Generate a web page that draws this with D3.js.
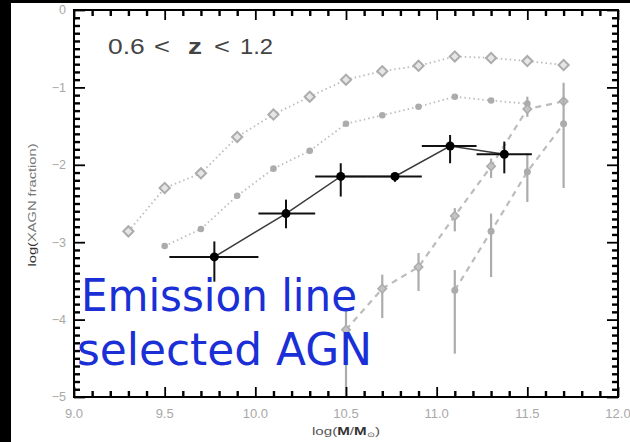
<!DOCTYPE html>
<html>
<head>
<meta charset="utf-8">
<script src="https://cdn.jsdelivr.net/npm/d3@7"></script>
<style>
  html, body { margin: 0; padding: 0; background: #fff; }
  svg { display: block; }
</style>
</head>
<body>
<script>
// ---------- data ----------
const xTicksMajor = [9.0, 9.5, 10.0, 10.5, 11.0, 11.5, 12.0];
const xTickLabels = ["9.0", "9.5", "10.0", "10.5", "11.0", "11.5", "12.0"];
const yTicksMajor = [0, -1, -2, -3, -4, -5];

const massDiamond = [9.3, 9.5, 9.7, 9.9, 10.1, 10.3, 10.5, 10.7, 10.9, 11.1, 11.3, 11.5, 11.7];
const fracDiamond = [-2.86, -2.30, -2.11, -1.64, -1.35, -1.12, -0.90, -0.79, -0.72, -0.60, -0.62, -0.66, -0.71];

const massDots = [9.5, 9.7, 9.9, 10.1, 10.3, 10.5, 10.7, 10.9, 11.1, 11.3, 11.5];
const fracDots = [-3.05, -2.83, -2.40, -2.05, -1.82, -1.47, -1.36, -1.25, -1.12, -1.17, -1.21];

const massDashA = [10.5, 10.7, 10.9, 11.1, 11.3, 11.5, 11.7];
const fracDashA = [-4.13, -3.60, -3.32, -2.66, -2.02, -1.28, -1.18];
const loDashA   = [-5.00, -3.98, -3.63, -2.86, -2.17, -1.38, null];
const hiDashA   = [-3.88, -3.42, -3.14, -2.56, -1.92, -1.12, null];

const massDashB = [11.1, 11.3, 11.5, 11.7];
const fracDashB = [-3.62, -2.86, -2.09, -1.47];
const loDashB   = [-4.44, -3.45, -2.48, -2.30];
const hiDashB   = [-3.36, -2.63, -1.85, -0.94];

const massAGN  = [9.774, 10.169, 10.471, 10.770, 11.074, 11.373];
const fracAGN  = [-3.19, -2.63, -2.15, -2.15, -1.757, -1.864];
const massLo   = [9.526, 10.017, 10.330, 10.620, 10.918, 11.220];
const massHi   = [10.017, 10.330, 10.620, 10.918, 11.220, 11.525];
const fracLo   = [-3.51, -2.82, -2.41, -2.22, -1.98, -2.11];
const fracHi   = [-2.99, -2.45, -1.98, -2.11, -1.615, -1.70];

// ---------- layout ----------
const W = 630, H = 442;
const PL = 74, PR = 618, PT = 10, PB = 397;

const svg = d3.select("body").append("svg").attr("width", W).attr("height", H)
  .attr("viewBox", `0 0 ${W} ${H}`);
svg.append("rect").attr("width", W).attr("height", H).attr("fill", "#fff");
svg.append("rect").attr("x", 0).attr("y", 0).attr("width", 11).attr("height", H).attr("fill", "#000");
svg.append("rect").attr("x", 0).attr("y", 0).attr("width", W).attr("height", 3).attr("fill", "#000");

const xs = d3.scaleLinear().domain([9, 12]).range([PL, PR]);
const ys = d3.scaleLinear().domain([-5, 0]).range([PB, PT]);

const minorX = d3.range(90, 121).map(v => v / 10).filter(v => Math.abs(v * 2 - Math.round(v * 2)) > 1e-6);
const minorY = d3.range(-50, 1).map(v => v / 10).filter(v => Math.abs(v - Math.round(v)) > 1e-6);

// ---------- gray data marks ----------
const lineGen = d3.line().x(d => xs(d[0])).y(d => ys(d[1]));

const dDia = massDiamond.map((m, i) => [m, fracDiamond[i]]);
svg.append("path").attr("d", lineGen(dDia)).attr("fill", "none")
  .attr("stroke", "#bdbdbd").attr("stroke-width", 1.8).attr("stroke-dasharray", "1.5,3");
svg.selectAll(".dia").data(dDia).enter().append("path")
  .attr("transform", d => `translate(${xs(d[0])},${ys(d[1])}) rotate(45)`)
  .attr("d", d3.symbol(d3.symbolSquare, 52)())
  .attr("fill", "#e6e6e6").attr("stroke", "#acacac").attr("stroke-width", 2);

const dDots = massDots.map((m, i) => [m, fracDots[i]]);
svg.append("path").attr("d", lineGen(dDots)).attr("fill", "none")
  .attr("stroke", "#bdbdbd").attr("stroke-width", 1.8).attr("stroke-dasharray", "1.5,3");
svg.selectAll(".dot").data(dDots).enter().append("circle")
  .attr("cx", d => xs(d[0])).attr("cy", d => ys(d[1])).attr("r", 3.3).attr("fill", "#acacac");

function dashed(mass, frac, lo, hi, sym) {
  const pts = mass.map((m, i) => ({m, f: frac[i], lo: lo[i], hi: hi[i]}));
  svg.append("path").attr("d", lineGen(pts.map(p => [p.m, p.f]))).attr("fill", "none")
    .attr("stroke", "#bcbcbc").attr("stroke-width", 2.2).attr("stroke-dasharray", "6,5");
  svg.selectAll(null).data(pts.filter(p => p.lo !== null)).enter().append("line")
    .attr("x1", p => xs(p.m)).attr("x2", p => xs(p.m))
    .attr("y1", p => ys(p.lo)).attr("y2", p => ys(p.hi))
    .attr("stroke", "#acacac").attr("stroke-width", 2.2);
  if (sym === "diamond") {
    svg.selectAll(null).data(pts).enter().append("path")
      .attr("transform", p => `translate(${xs(p.m)},${ys(p.f)}) rotate(45)`)
      .attr("d", d3.symbol(d3.symbolSquare, 36)())
      .attr("fill", "#c4c4c4").attr("stroke", "#acacac").attr("stroke-width", 1.5);
  } else {
    svg.selectAll(null).data(pts).enter().append("circle")
      .attr("cx", p => xs(p.m)).attr("cy", p => ys(p.f)).attr("r", 3.5).attr("fill", "#acacac");
  }
}
dashed(massDashA, fracDashA, loDashA, hiDashA, "diamond");
dashed(massDashB, fracDashB, loDashB, hiDashB, "circle");

// ---------- axes: d3 axes with inward ticks, frame as filled rects ----------
function axisGroup(axis, tx, ty, width) {
  const g = svg.append("g").attr("transform", `translate(${tx},${ty})`).call(axis);
  g.select(".domain").remove();
  g.selectAll(".tick line").attr("stroke", "#000").style("stroke", "#000").style("stroke-width", width + "px");
  return g;
}
axisGroup(d3.axisBottom(xs).tickValues(minorX).tickSizeInner(-6).tickSizeOuter(0).tickFormat(""), 0, PB, 2.4);
axisGroup(d3.axisTop(xs).tickValues(minorX).tickSizeInner(-6).tickSizeOuter(0).tickFormat(""), 0, PT, 2.4);
axisGroup(d3.axisLeft(ys).tickValues(minorY).tickSizeInner(-6).tickSizeOuter(0).tickFormat(""), PL, 0, 2.4);
axisGroup(d3.axisRight(ys).tickValues(minorY).tickSizeInner(-6).tickSizeOuter(0).tickFormat(""), PR, 0, 2.4);
axisGroup(d3.axisBottom(xs).tickValues(xTicksMajor).tickSizeInner(-10).tickSizeOuter(0).tickFormat(""), 0, PB, 1.8);
axisGroup(d3.axisTop(xs).tickValues(xTicksMajor).tickSizeInner(-10).tickSizeOuter(0).tickFormat(""), 0, PT, 1.8);
axisGroup(d3.axisLeft(ys).tickValues(yTicksMajor).tickSizeInner(-11).tickSizeOuter(0).tickFormat(""), PL, 0, 1.8);
axisGroup(d3.axisRight(ys).tickValues(yTicksMajor).tickSizeInner(-11).tickSizeOuter(0).tickFormat(""), PR, 0, 1.8);

// frame as filled rectangles (2px)
[[PL - 1, PT - 1, PR - PL + 2, 2], [PL - 1, PB - 1, PR - PL + 2, 2],
 [PL - 1, PT - 1, 2, PB - PT + 2], [PR - 1, PT - 1, 2, PB - PT + 2]].forEach(r =>
  svg.append("rect").attr("x", r[0]).attr("y", r[1]).attr("width", r[2]).attr("height", r[3]).attr("fill", "#000"));

// tick labels
svg.selectAll(".xl").data(xTicksMajor).enter().append("text")
  .attr("x", d => xs(d)).attr("y", PB + 21).attr("text-anchor", "middle")
  .attr("font-family", "Liberation Sans, Arial, sans-serif").attr("font-size", 13).attr("fill", "#a8a8a8")
  .text((d, i) => xTickLabels[i]);
const fmt = d3.format("d");
svg.selectAll(".yl").data(yTicksMajor).enter().append("text")
  .attr("x", PL - 8).attr("y", d => ys(d)).attr("dy", "0.35em").attr("text-anchor", "end")
  .attr("font-family", "Liberation Sans, Arial, sans-serif").attr("font-size", 12.5).attr("fill", "#a8a8a8")
  .text(d => fmt(d));

// axis titles
const xt = svg.append("text").attr("x", 312).attr("y", 435)
  .attr("font-family", "Liberation Sans, Arial, sans-serif").attr("font-size", 11).attr("fill", "#555")
  .attr("textLength", 68).attr("lengthAdjust", "spacingAndGlyphs");
xt.append("tspan").text("log(");
xt.append("tspan").attr("font-weight", "bold").attr("fill", "#333").text("M");
xt.append("tspan").text("/");
xt.append("tspan").attr("font-weight", "bold").attr("fill", "#333").text("M");
xt.append("tspan").attr("font-size", 7).attr("dy", 2).text("⊙");
xt.append("tspan").attr("dy", -2).text(")");

const yt = svg.append("text")
  .attr("transform", "translate(36,205) rotate(-90)")
  .attr("text-anchor", "middle")
  .attr("font-family", "Liberation Sans, Arial, sans-serif").attr("font-size", 11).attr("fill", "#777")
  .attr("textLength", 123).attr("lengthAdjust", "spacingAndGlyphs");
yt.append("tspan").attr("fill", "#333").text("log(");
yt.append("tspan").text("XAGN fraction)");

// redshift label
const zParts = [
  {t: "0.6", x: 108, w: 36.7, b: false},
  {t: "<", x: 154, w: 16, b: false},
  {t: "z", x: 188, w: 14, b: true},
  {t: "<", x: 214, w: 16, b: false},
  {t: "1.2", x: 240, w: 33, b: false}
];
svg.selectAll(".zlab").data(zParts).enter().append("text")
  .attr("x", d => d.x).attr("y", 54)
  .attr("font-family", "Liberation Sans, Arial, sans-serif").attr("font-size", 22)
  .attr("font-weight", d => d.b ? "bold" : "normal")
  .attr("fill", "#444")
  .attr("textLength", d => d.w).attr("lengthAdjust", "spacingAndGlyphs")
  .text(d => d.t);

// ---------- black AGN series ----------
const agn = massAGN.map((m, i) => ({m, f: fracAGN[i], xl: massLo[i], xh: massHi[i], yl: fracLo[i], yh: fracHi[i]}));
svg.append("path").attr("d", lineGen(agn.map(p => [p.m, p.f]))).attr("fill", "none")
  .attr("stroke", "#3a3a3a").attr("stroke-width", 1.5);
svg.selectAll(".xerr").data(agn).enter().append("line")
  .attr("x1", p => xs(p.xl)).attr("x2", p => xs(p.xh))
  .attr("y1", p => ys(p.f)).attr("y2", p => ys(p.f))
  .attr("stroke", "#111").attr("stroke-width", 2);
svg.selectAll(".yerr").data(agn).enter().append("line")
  .attr("x1", p => xs(p.m)).attr("x2", p => xs(p.m))
  .attr("y1", p => ys(p.yl)).attr("y2", p => ys(p.yh))
  .attr("stroke", "#111").attr("stroke-width", 2);
svg.selectAll(".agn").data(agn).enter().append("circle")
  .attr("cx", p => xs(p.m)).attr("cy", p => ys(p.f)).attr("r", 4.5).attr("fill", "#000");

// blue overlay text
const blueLines = [
  {t: "Emission line", x: 81, y: 311, w: 276},
  {t: "selected AGN", x: 77, y: 365, w: 295}
];
svg.selectAll(".blue").data(blueLines).enter().append("text")
  .attr("x", d => d.x).attr("y", d => d.y)
  .attr("font-family", "DejaVu Sans, Verdana, sans-serif").attr("font-size", 45)
  .attr("fill", "#1a2fd6")
  .attr("textLength", d => d.w).attr("lengthAdjust", "spacingAndGlyphs")
  .text(d => d.t);
</script>
</body>
</html>
